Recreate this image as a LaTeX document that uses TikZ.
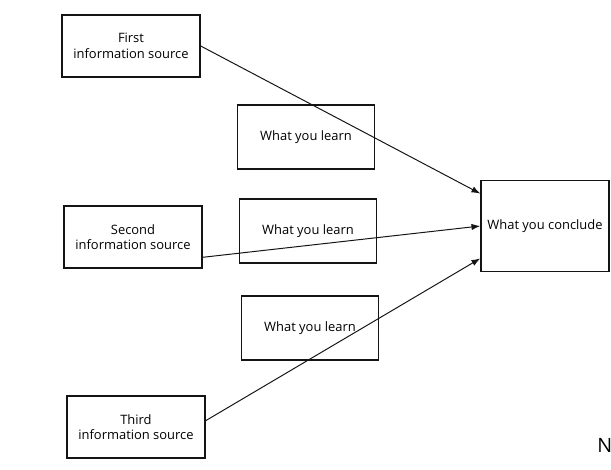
\documentclass[tikz,border=0pt]{standalone}
\usepackage{fontspec}
\setmainfont{Open Sans}
\usepackage{tikz}
\usetikzlibrary{arrows.meta,calc}
\definecolor{InkBlack}{gray}{0.08}

\begin{document}
\begin{tikzpicture}[x=0.025cm,y=-0.025cm,
  source/.style={draw=InkBlack,line width=1pt,fill=white,minimum width=3.45cm,minimum height=1.55cm,align=center,inner sep=2pt,font=\fontsize{9.2}{11}\selectfont},
  learn/.style={source,minimum width=3.43cm,minimum height=1.6cm},
  result/.style={source,minimum width=3.2cm,minimum height=2.28cm},
  arrow/.style={-{Latex[length=2.2mm,width=1.6mm]},line width=0.7pt,draw=InkBlack}]
  \useasboundingbox (0,0) rectangle (611,469);
  \node[source] (first) at (131,46) {First\\information source};
  \node[learn] (learnA) at (306,137) {What you learn};
  \node[source] (second) at (133,237) {Second\\information source};
  \node[learn] (learnB) at (308,231) {What you learn};
  \node[learn] (learnC) at (310,328) {What you learn};
  \node[source] (third) at (136,427) {Third\\information source};
  \node[result] (conclude) at (545,226) {What you conclude};
  \node[font=\fontsize{14}{16}\selectfont,inner sep=0pt,anchor=west] (mark) at (597,445) {N};
  \draw[arrow] (first.east) -- ($(conclude.north west)!0.15!(conclude.south west)$);
  \draw[arrow] ($(second.north east)!0.82!(second.south east)$) -- (conclude.west);
  \draw[arrow] ($(third.north east)!0.4!(third.south east)$) -- ($(conclude.north west)!0.85!(conclude.south west)$);
\end{tikzpicture}
\end{document}
